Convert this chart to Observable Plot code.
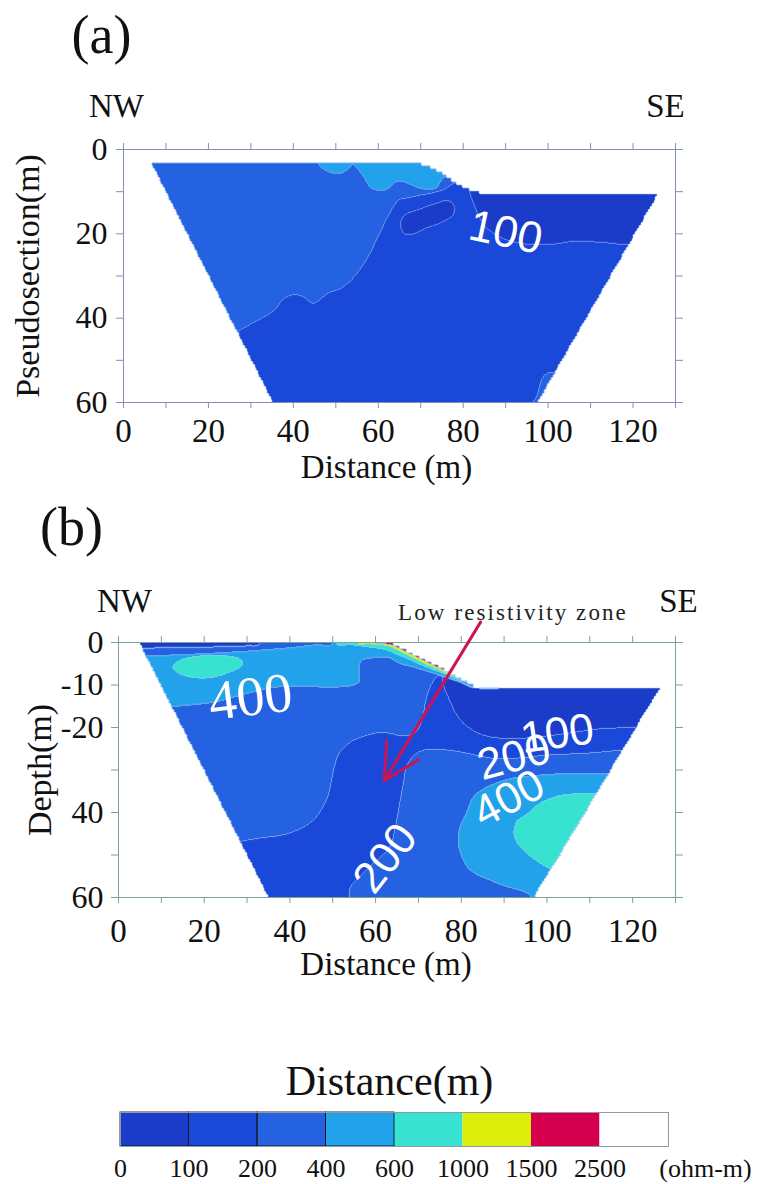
<!DOCTYPE html>
<html><head><meta charset="utf-8">
<script src="https://cdn.jsdelivr.net/npm/d3@7"></script>
<script src="https://cdn.jsdelivr.net/npm/@observablehq/plot@0.6"></script>
<style>
body{margin:0;background:#fff;}
#wrap{width:757px;}
#wrap svg{display:block;}
</style></head><body><div id="wrap"></div>
<script>
// ---------------- data ----------------
const classBreaks = [0, 100, 200, 400, 600, 1000, 1500, 2500];
const classColors = ["#1b3cc8", "#1a48d8", "#2462e2", "#22a2ea", "#38e2d0", "#dcef0a", "#d4004e", "#ffffff"];
const legendLabels = ["0", "100", "200", "400", "600", "1000", "1500", "2500"];
const xTicks = [0, 10, 20, 30, 40, 50, 60, 70, 80, 90, 100, 110, 120, 130];
const xTickLabels = ["0", "", "20", "", "40", "", "60", "", "80", "", "100", "", "120", ""];
const depthTicks = [0, 10, 20, 30, 40, 50, 60];
const depthLabelsA = ["0", "", "20", "", "40", "", "60"];
const depthLabelsB = ["0", "-10", "-20", "", "40", "", "60"];

// (a) pseudosection: outline of the data area [distance m, depth m]
const sectionA = [[6.5,3.3],[70,3.3],[72,4.0],[75,5.6],[78,7.6],[81,9.2],[84,10.2],[126.2,10.2],[97.6,60],[35.1,60]];
const baseA = 280;
const zoneA150 = [[79.5,7.0],[77.6,8.1],[75.5,9.4],[73.4,10.1],[70,10.8],[66.7,11.5],[64.9,11.9],[63,14.5],[60.6,19.2],[57.5,25.6],[54.2,30.3],[51.2,32.9],[48.1,34.1],[44.8,36.5],[42.5,35],[40.1,34.4],[37.8,35.3],[35.4,38.2],[30.7,41],[26,43.6],[20,47],[12,52],[12,75],[150,75],[150,-10],[82,-10]];
const zoneA80 = [[150,22.7],[120,22.7],[112,22],[106,21.8],[101,22.5],[95,22.5],[89,21],[85,18],[82.5,13],[81.5,9.5],[82,-10],[150,-10]];
const blobA80 = [[65.3,18.5],[65.5,16.5],[66.7,15.2],[70,14],[73.4,12.8],[76.4,12.1],[78,13.5],[77.6,15.6],[75,17.3],[71.7,18.5],[68.4,20],[66.3,20.1]];
const bumpA250 = [[96,62],[97.5,58],[98.6,54.3],[100.4,52.8],[102.8,53.6],[104.4,55.2],[107,57],[110,62]];
const topA450 = [[44.5,-5],[45.4,2],[46.3,4],[48,5.2],[49.5,5.7],[51.4,5.6],[53.2,4.5],[54,3.6],[55.7,5.4],[57,7.3],[58.3,9.2],[61.6,9.7],[64.6,7.6],[67.5,8.3],[70,9.3],[73.5,9.2],[75,7.2],[76.2,5.8],[77,-5]];
const zonesA = [[zoneA150,150],[zoneA80,80],[blobA80,80],[bumpA250,250],[topA450,450]];
const labelsA = [{x: 90.0, depth: 19.7, text: "100"}];
const anglesA = [12];

// (b) inverted section
const sectionB = [[4.7,0],[62,0],[64,0.3],[68,2.3],[72,4.3],[75,5.8],[78,7.5],[82,9.7],[83.5,10.4],[126.7,10.4],[97,60],[34.9,60]];
const baseB = 280;
const zoneB150 = [[15,52],[28,47],[33,46],[38.6,45.2],[43,43.5],[46,41.2],[48.5,37],[49.5,33.5],[50.3,29.5],[51.5,26],[54,23.5],[56,22.5],[60,21.3],[63,21.3],[66.5,22],[69.5,21],[71,17.5],[71.6,14],[72.5,11],[73.5,9],[75,7.5],[78,6],[150,6],[150,25.3],[118.5,25.3],[110,26],[100,26.5],[93,27.2],[87,27.2],[79,25.6],[75,25.2],[71.4,25.3],[69,26.5],[67.2,29.3],[66.5,33],[65.6,38],[64.6,43.5],[63.3,48.2],[60,51.5],[57,54.5],[54,58],[52,75],[15,75]];
const zoneB70 = [[76,6],[76,10.4],[77,13],[78.9,17],[81,19.5],[84.3,21.5],[88,22.4],[93,22.6],[100,22],[106,21.2],[112.5,20.3],[123,20],[150,20],[150,6]];
const zoneB450low = [[79.3,45.8],[79.5,48.5],[81.4,52.9],[84,54.8],[86.8,56],[90,57.3],[93.8,58.4],[96,59.5],[97,62],[150,62],[150,30.9],[115.6,30.9],[103,30.9],[97,31.3],[91.4,32],[87,33.5],[83,36],[81.4,39.5],[79.8,43]];
const zoneB700low = [[92.3,44.4],[93,42],[95.4,40.3],[98,38],[101.5,36.4],[105,35.7],[109.4,35.6],[150,35.6],[150,56],[105,54.6],[103,54.2],[100,52.9],[97,51],[93.8,48.2],[92.6,46.3]];
const zoneB450top = [[-10,-10],[90,-10],[90,9.8],[83,10.6],[80,9.4],[76.5,8.2],[72.6,7.0],[68,5.6],[65.6,5.0],[63,3.6],[58,3.8],[56.5,4.5],[56.3,7],[56,9.6],[51,10.5],[44,10.4],[37,10.5],[30,12],[22.8,14],[11.9,15.2],[0,16.5],[-10,17]];
const bandB280 = [[-10,-10],[50,-10],[50,0.2],[46,0.5],[40,1.2],[30,2.0],[20,2.6],[10,3.0],[0,3.2],[-10,3.3]];
const stripB60 = [[-10,-10],[34,-10],[33,0.3],[30,0.8],[20,1.1],[10,1.2],[-10,1.3]];
const lensB700 = [[12.7,6],[13.5,4.6],[16,3.6],[20,3.1],[24,3.1],[27.5,3.5],[29,4.5],[28.5,5.8],[26,7],[22,8.2],[18,8.3],[14.5,7.5]];
const slopeB700 = [[50,-10],[90,-10],[90,9.0],[80,9.0],[78,8.2],[75,7.0],[72,5.9],[68,4.1],[64,2.4],[62,1.6],[58,1.0],[54,0.5],[51,0.4]];
const slopeB1200 = [[56,-10],[90,-10],[90,7.8],[78,7.8],[75,6.5],[72,5.2],[68,3.2],[64,1.2],[62,0.6],[58,0.3],[56,0.2]];
const slopeB1800 = [[60,-10],[90,-10],[90,6.6],[77,6.6],[75,6.1],[72,4.65],[68,2.65],[64,0.65],[61,0.2],[60,0.1]];
const zonesB = [[zoneB150,150],[zoneB70,70],[zoneB450low,450],[zoneB700low,700],[zoneB450top,450],[bandB280,280],[stripB60,60],[lensB700,700],[slopeB700,700],[slopeB1200,1200],[slopeB1800,1800]];
const labelsBsans = [
  {x: 62.3, depth: 50.8, text: "200"},
  {x: 92.3, depth: 27.0, text: "200"},
  {x: 102.4, depth: 21.5, text: "100"},
  {x: 91.1, depth: 36.8, text: "400"}
];
const anglesBsans = [-52, -15, -8, -28];
const labelsBserif = [{x: 30.8, depth: 12.9, text: "400"}];
const anglesBserif = [-7];
const arrowFrom = [84.5, -4.8];
const arrowTo = [62.0, 32.5];
const gridStep = 0.75; // depth step of the modelling grid (gives the stepped section edges)

// ---------------- helpers ----------------
const SERIF = "'Liberation Serif', 'Times New Roman', serif";
const SANS = "'Liberation Sans', Arial, sans-serif";

function smoothRing(pts, steps = 5) {
  const n = pts.length, out = [];
  const dist = (a, b) => Math.hypot(b[0] - a[0], b[1] - a[1]) || 1e-6;
  for (let i = 0; i < n; i++) {
    const p0 = pts[(i - 1 + n) % n], p1 = pts[i], p2 = pts[(i + 1) % n], p3 = pts[(i + 2) % n];
    const d01 = dist(p0, p1), d12 = dist(p1, p2), d23 = dist(p2, p3);
    const a = d12 / (d01 + d12), b = d12 / (d12 + d23);
    const m1 = [(p2[0] - p0[0]) * a, (p2[1] - p0[1]) * a];
    const m2 = [(p3[0] - p1[0]) * b, (p3[1] - p1[1]) * b];
    for (let s = 0; s < steps; s++) {
      const t = s / steps, t2 = t * t, t3 = t2 * t;
      const h00 = 2 * t3 - 3 * t2 + 1, h10 = t3 - 2 * t2 + t, h01 = -2 * t3 + 3 * t2, h11 = t3 - t2;
      out.push([h00 * p1[0] + h10 * m1[0] + h01 * p2[0] + h11 * m2[0],
                h00 * p1[1] + h10 * m1[1] + h01 * p2[1] + h11 * m2[1]]);
    }
  }
  return out;
}

function makeField(outline, base, zones) {
  const Z = zones.map(([pts, v]) => {
    const ring = smoothRing(pts);
    return {ring, v, x0: d3.min(ring, p => p[0]), x1: d3.max(ring, p => p[0]), y0: d3.min(ring, p => p[1]), y1: d3.max(ring, p => p[1])};
  });
  return (x, y) => {
    const yq = (Math.floor(y / gridStep) + 0.5) * gridStep;
    if (!d3.polygonContains(outline, [x, yq])) return NaN;
    let v = base;
    for (const z of Z) {
      if (x >= z.x0 && x <= z.x1 && y >= z.y0 && y <= z.y1 && d3.polygonContains(z.ring, [x, y])) v = z.v;
    }
    return v;
  };
}

function axes(col, yLabels, xPad, yPad) {
  return [
    Plot.frame({stroke: col, strokeWidth: 1}),
    Plot.axisX({anchor: "bottom", ticks: xTicks, tickFormat: d => xTickLabels[xTicks.indexOf(d)], tickSize: 6, tickPadding: xPad, stroke: col, fill: "#111", fontSize: 33, fontFamily: SERIF, label: null}),
    Plot.axisX({anchor: "top", ticks: xTicks, tickFormat: () => "", tickSize: 7, stroke: col, label: null}),
    Plot.axisY({anchor: "left", ticks: depthTicks, tickFormat: d => yLabels[depthTicks.indexOf(d)], tickSize: 7, tickPadding: yPad, stroke: col, fill: "#111", fontSize: 32, fontFamily: SERIF, label: null}),
    Plot.axisY({anchor: "right", ticks: depthTicks, tickFormat: () => "", tickSize: 7, stroke: col, label: null})
  ];
}

// centred text placed relative to the frame
function note(str, frameAnchor, dx, dy, size, extra = {}) {
  return Plot.text([str], {text: d => d, frameAnchor, dx, dy, fontSize: size, fontFamily: SERIF, fill: "#111", textAnchor: "middle", lineAnchor: "middle", ...extra});
}

const colorScale = {type: "threshold", domain: classBreaks.slice(1), range: classColors};
const wrap = document.getElementById("wrap");

// ---------------- panel (a) ----------------
const plotA = Plot.plot({
  width: 757, height: 500,
  marginTop: 149, marginBottom: 98, marginLeft: 123, marginRight: 82,
  x: {domain: [0, 130]},
  y: {domain: [0, 60], reverse: true},
  color: colorScale,
  style: {background: "white", overflow: "visible"},
  marks: [
    Plot.contour({fill: makeField(sectionA, baseA, zonesA), x1: 0, x2: 130, y1: 0, y2: 60, pixelSize: 1, thresholds: classBreaks, stroke: "#a8c8f4", strokeWidth: 0.7, strokeOpacity: 0.85}),
    ...axes("#7f8fb8", depthLabelsA, 10, 9),
    Plot.text(labelsA, {x: "x", y: "depth", text: "text", rotate: (d, i) => anglesA[i], fill: "white", fontSize: 44, fontFamily: SANS}),
    note("(a)", "top-left", -22, -114, 54),
    note("NW", "top-left", -7, -43, 33),
    note("SE", "top-right", -10, -43, 33),
    note("Distance (m)", "bottom", -13, 65, 33),
    note("Pseudosection(m)", "left", -95, 0, 34, {rotate: -90})
  ]
});
wrap.appendChild(plotA);

// ---------------- panel (b) ----------------
const plotB = Plot.plot({
  width: 757, height: 500,
  marginTop: 142, marginBottom: 103, marginLeft: 118, marginRight: 82,
  x: {domain: [0, 130]},
  y: {domain: [0, 60], reverse: true},
  color: colorScale,
  style: {background: "white", overflow: "visible"},
  marks: [
    Plot.contour({fill: makeField(sectionB, baseB, zonesB), x1: 0, x2: 130, y1: 0, y2: 60, pixelSize: 1, thresholds: classBreaks, stroke: "#b4d6f6", strokeWidth: 0.7, strokeOpacity: 0.85}),
    ...axes("#7ea294", depthLabelsB, 15, 8),
    Plot.text(labelsBsans, {x: "x", y: "depth", text: "text", rotate: (d, i) => anglesBsans[i], fill: "white", fontSize: 44, fontFamily: SANS}),
    Plot.text(labelsBserif, {x: "x", y: "depth", text: "text", rotate: (d, i) => anglesBserif[i], fill: "white", fontSize: 56, fontFamily: SERIF}),
    Plot.arrow([{from: arrowFrom, to: arrowTo}], {x1: d => d.from[0], y1: d => d.from[1], x2: d => d.to[0], y2: d => d.to[1], stroke: "#cc1452", strokeWidth: 3, headLength: 20, headAngle: 55}),
    note("Low resistivity zone", "top", 116, -30, 23, {fill: "#222"}),
    note("(b)", "top-left", -47, -115, 54),
    note("NW", "top-left", 6, -41, 33),
    note("SE", "top-right", 3, -41, 33),
    note("Distance (m)", "bottom", -11, 67, 33),
    note("Depth(m)", "left", -78, 0, 34, {rotate: -90})
  ]
});
{
  const texts = Array.from(plotB.querySelectorAll("text"));
  for (const t of texts) {
    if (t.textContent === "Low resistivity zone") t.setAttribute("letter-spacing", "2.1");
  }
  // the upper-left contour label is the last "400" text drawn (serif mark comes after the sans one)
  const fours = texts.filter(t => t.textContent === labelsBserif[0].text);
  const serifLabel = fours[fours.length - 1];
  if (serifLabel) {
    serifLabel.setAttribute("font-family", SERIF);
    serifLabel.setAttribute("style", "font-family: 'Liberation Serif', 'Times New Roman', serif !important; font-size: 56px;");
  }
}
wrap.appendChild(plotB);

// ---------------- legend ----------------
const legend = Plot.plot({
  width: 757, height: 184,
  marginTop: 112, marginBottom: 38, marginLeft: 120, marginRight: 89,
  x: {domain: [0, classColors.length], axis: null},
  y: {axis: null},
  style: {background: "white", overflow: "visible"},
  marks: [
    Plot.barX(classColors, {x1: (d, i) => i, x2: (d, i) => i + 1, fill: d => d}),
    Plot.barX(classColors.slice(0, 4), {x1: (d, i) => i, x2: (d, i) => i + 1, stroke: "#151515", strokeWidth: 0.9}),
    Plot.frame({stroke: "#8d9aa6", strokeWidth: 1}),
    Plot.text(legendLabels, {x: (d, i) => i, text: d => d, frameAnchor: "bottom", dy: 22, lineAnchor: "middle", textAnchor: "middle", fontSize: 26, fontFamily: SERIF, fill: "#111"}),
    note("(ohm-m)", "bottom-right", 37, 22, 26),
    note("Distance(m)", "top", -5, -31, 42)
  ]
});
wrap.appendChild(legend);
</script>
</body></html>
